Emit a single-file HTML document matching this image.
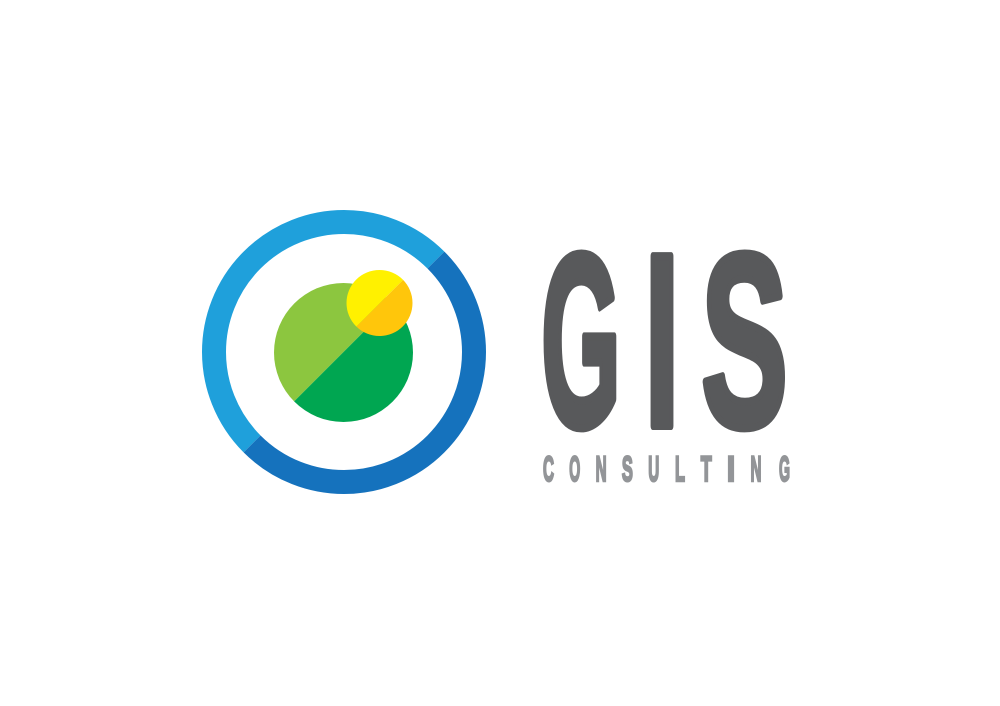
<!DOCTYPE html>
<html><head><meta charset="utf-8"><style>html,body{margin:0;padding:0;background:#fff;}svg{display:block}</style></head>
<body>
<svg width="1000" height="706" viewBox="0 0 1000 706">
<defs>
<clipPath id="ring-ul"><polygon points="-1000,1696 1696,-1000 -1000,-1000"/></clipPath>
<clipPath id="ring-lr"><polygon points="-1000,1696 1696,-1000 2000,2000"/></clipPath>
<clipPath id="g-ul"><polygon points="-1000,1695.5 1695.5,-1000 -1000,-1000" /></clipPath>
<clipPath id="g-lr"><polygon points="-1000,1695.5 1695.5,-1000 2000,2000" /></clipPath>
<clipPath id="y-ul"><polygon points="-1000,1683 1683,-1000 -1000,-1000" /></clipPath>
<clipPath id="y-lr"><polygon points="-1000,1683 1683,-1000 2000,2000" /></clipPath>
</defs>
<g>
<circle cx="344" cy="352" r="130" fill="none" stroke="#1fa0db" stroke-width="24" clip-path="url(#ring-ul)"/>
<circle cx="344" cy="352" r="130" fill="none" stroke="#1572bd" stroke-width="24" clip-path="url(#ring-lr)"/>
</g>
<g>
<circle cx="343.5" cy="352.5" r="69.5" fill="#8cc63f" clip-path="url(#g-ul)"/>
<circle cx="343.5" cy="352.5" r="69.5" fill="#00a651" clip-path="url(#g-lr)"/>
</g>
<g>
<circle cx="379.5" cy="303" r="33" fill="#fff100" clip-path="url(#y-ul)"/>
<circle cx="379.5" cy="303" r="33" fill="#ffc60b" clip-path="url(#y-lr)"/>
</g>
<g fill="#58595b" stroke="#58595b" stroke-width="8" stroke-linejoin="round" font-family="Liberation Sans, sans-serif" font-weight="bold" font-size="247">
<text x="541" y="426" textLength="80" lengthAdjust="spacingAndGlyphs">G</text>
<text x="662" y="426" text-anchor="middle" textLength="36" lengthAdjust="spacingAndGlyphs">I</text>
<text x="701" y="426" textLength="87" lengthAdjust="spacingAndGlyphs">S</text>
</g>
<g fill="#939598" stroke="#939598" stroke-width="2.5" font-family="Liberation Sans, sans-serif" font-weight="bold" font-size="35" text-anchor="middle">
<text x="548.5" y="481" textLength="11" lengthAdjust="spacingAndGlyphs">C</text>
<text x="574.8" y="481" textLength="11" lengthAdjust="spacingAndGlyphs">O</text>
<text x="601.1" y="481" textLength="11" lengthAdjust="spacingAndGlyphs">N</text>
<text x="627.4" y="481" textLength="11" lengthAdjust="spacingAndGlyphs">S</text>
<text x="653.7" y="481" textLength="11" lengthAdjust="spacingAndGlyphs">U</text>
<text x="680" y="481" textLength="10" lengthAdjust="spacingAndGlyphs">L</text>
<text x="706.3" y="481" textLength="11" lengthAdjust="spacingAndGlyphs">T</text>
<text x="731" y="481" textLength="8" lengthAdjust="spacingAndGlyphs">I</text>
<text x="756" y="481" textLength="11" lengthAdjust="spacingAndGlyphs">N</text>
<text x="784.5" y="481" textLength="11" lengthAdjust="spacingAndGlyphs">G</text>
</g>
</svg>
</body></html>
